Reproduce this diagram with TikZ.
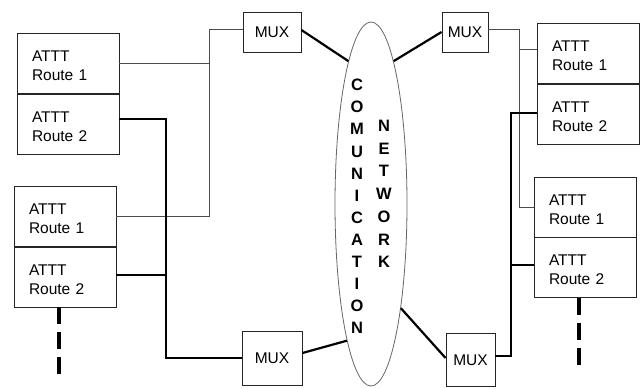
\documentclass[tikz,border=0pt]{standalone}
\usepackage{fontspec}
\setmainfont{Liberation Sans}
\usetikzlibrary{shapes.geometric,calc}
\begin{document}
\begin{tikzpicture}[x=1pt,y=-1pt,
  route/.style={draw=black!85, line width=0.9pt, rectangle, minimum width=102pt, minimum height=60pt, text width=72pt, text depth=14pt, inner xsep=15pt, inner ysep=0pt, align=left, font=\fontsize{15.5}{19}\selectfont},
  muxbox/.style={draw=black!85, line width=0.9pt, rectangle, inner sep=0pt, font=\fontsize{15.5}{18}\selectfont},
  thinln/.style={draw=black!70, line width=1pt},
  thickln/.style={draw=black, line width=2.2pt},
  dashln/.style={draw=black, line width=3.2pt, dash pattern=on 17pt off 8pt},
  vtext/.style={font=\fontsize{16.5}{22.1}\selectfont\bfseries, align=center, inner sep=0pt}
]
\useasboundingbox (0,0) rectangle (642,388);
\fill[white] (0,0) rectangle (642,388);

% left boxes
\node[route] (L1a) at (68,63) {ATTT\\Route 1};
\node[route] (L1b) at (68,124) {ATTT\\Route 2};
\node[route] (L2a) at (65,216.5) {ATTT\\Route 1};
\node[route] (L2b) at (65,277) {ATTT\\Route 2};
% right boxes
\node[route] (R1a) at (588,53) {ATTT\\Route 1};
\node[route] (R1b) at (588,114) {ATTT\\Route 2};
\node[route] (R2a) at (585,207) {ATTT\\Route 1};
\node[route] (R2b) at (585,267.5) {ATTT\\Route 2};

% MUX boxes
\node[muxbox, minimum width=58pt, minimum height=40pt] (MTL) at (272,32) {MUX};
\node[muxbox, minimum width=46pt, minimum height=40pt] (MTR) at (465,32) {MUX};
\node[muxbox, minimum width=60pt, minimum height=54pt] (MBL) at (272,358) {MUX};
\node[muxbox, minimum width=49pt, minimum height=53pt] (MBR) at (470.5,360) {MUX};

% network ellipse
\node[ellipse, draw=black!60, line width=0.8pt, minimum width=72pt, minimum height=364pt, inner sep=0pt] (net) at (371,204) {};
\node[vtext] (comm) at (357,206.5) {C\\O\\M\\U\\N\\I\\C\\A\\T\\I\\O\\N};
\node[vtext, font=\fontsize{16.5}{22.7}\selectfont\bfseries] (netw) at (384,194) {N\\E\\T\\W\\O\\R\\K};

% anchor points
\coordinate (mtlw) at ([yshift=3pt]MTL.west);
\coordinate (mtle) at ([yshift=2pt]MTL.east);
\coordinate (mtre) at ([yshift=3pt]MTR.east);
\coordinate (mble) at ([yshift=5pt]MBL.east);
\coordinate (mbre) at ([yshift=4pt]MBR.east);
\coordinate (mbrw) at ([yshift=2pt]MBR.west);
\coordinate (l1be) at ([yshift=5pt]L1b.east);
\coordinate (l2be) at ([yshift=2pt]L2b.east);
\coordinate (r1aw) at ([yshift=4pt]R1a.west);
\coordinate (r1bw) at ([yshift=1pt]R1b.west);
\coordinate (r2bw) at ([yshift=2.5pt]R2b.west);

% left connectors
\coordinate (jl1) at (209,0);
\coordinate (jl2) at (166,0);
\draw[thinln] (mtlw) -| (jl1 |- L2a.east) -- (L2a.east);
\draw[thinln] (L1a.east) -- (L1a.east -| jl1);
\draw[thickln] (l1be) -| (jl2 |- MBL.west) -- (MBL.west);
\draw[thickln] (l2be) -- (l2be -| jl2);

% right connectors
\coordinate (jr1) at (519,0);
\coordinate (jr2) at (511,0);
\draw[thinln] (mtre) -| (jr1 |- R2a.west) -- (R2a.west);
\draw[thinln] (r1aw) -- (r1aw -| jr1);
\draw[thickln] (r1bw) -| (jr2 |- mbre) -- (mbre);
\draw[thickln] (r2bw) -- (r2bw -| jr2);

% network links
\draw[thickln] (mtle) -- (net.99.8);
\draw[thickln] (MTR.west) -- (net.81.1);
\draw[thickln] (mble) -- (net.-100.5);
\draw[thickln] (mbrw) -- (net.-74);

% continuation dashes
\coordinate (dl) at (59,380);
\coordinate (dr) at (579,370);
\draw[dashln] (dl |- L2b.south) -- (dl);
\draw[dashln] (dr |- R2b.south) -- (dr);
\end{tikzpicture}
\end{document}
